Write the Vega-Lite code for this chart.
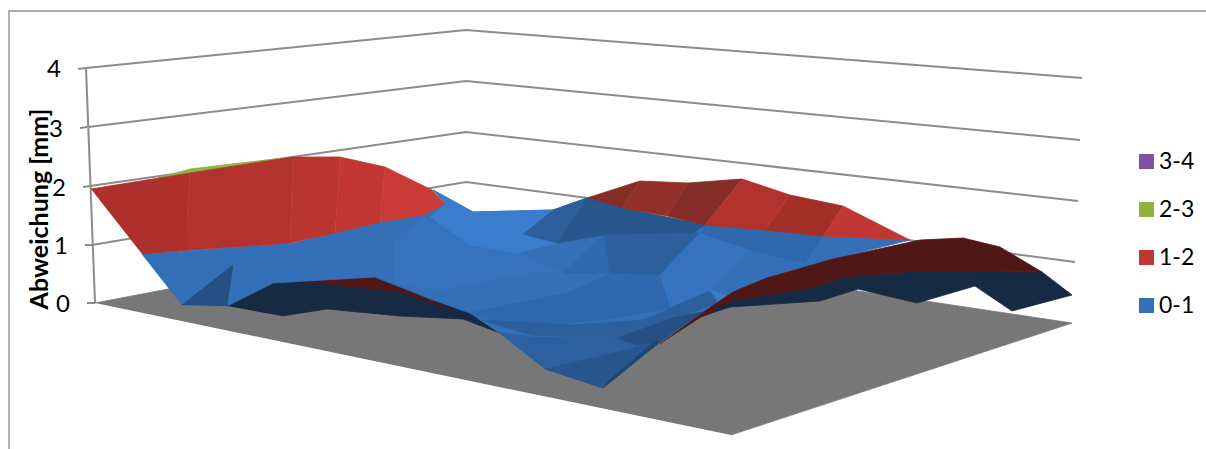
{"$schema":"https://vega.github.io/schema/vega-lite/v6.json","width":1206,"height":449,"padding":0,"autosize":{"type":"none"},"background":"white","config":{"view":{"stroke":null}},
"datasets":{
"lines":[
{"l":"frame","n":0,"x":9,"y":449},{"l":"frame","n":1,"x":9,"y":11},{"l":"frame","n":2,"x":1206,"y":11},
{"l":"g4","n":0,"x":78,"y":69},{"l":"g4","n":1,"x":86,"y":68},{"l":"g4","n":2,"x":466,"y":30},{"l":"g4","n":3,"x":1082,"y":78},
{"l":"g3","n":0,"x":80,"y":128},{"l":"g3","n":1,"x":88,"y":127},{"l":"g3","n":2,"x":466,"y":81},{"l":"g3","n":3,"x":1080,"y":140},
{"l":"g2","n":0,"x":83,"y":187},{"l":"g2","n":1,"x":90,"y":186},{"l":"g2","n":2,"x":466,"y":132},{"l":"g2","n":3,"x":1078,"y":201},
{"l":"g1","n":0,"x":85,"y":245},{"l":"g1","n":1,"x":92,"y":245},{"l":"g1","n":2,"x":466,"y":182},{"l":"g1","n":3,"x":1075,"y":262},
{"l":"g0","n":0,"x":87,"y":303},{"l":"g0","n":1,"x":95,"y":303},
{"l":"axis","n":0,"x":86,"y":68},{"l":"axis","n":1,"x":95,"y":303}
],
"polys":[
{"poly":"floor","band":"floor","n":0,"x":95,"y":303},{"poly":"floor","band":"floor","n":1,"x":466,"y":232},{"poly":"floor","band":"floor","n":2,"x":1072,"y":323},{"poly":"floor","band":"floor","n":3,"x":731,"y":435},
{"poly":"nl","band":"navy","n":0,"x":227,"y":306},{"poly":"nl","band":"navy","n":1,"x":273,"y":283},{"poly":"nl","band":"navy","n":2,"x":375,"y":277},{"poly":"nl","band":"navy","n":3,"x":433,"y":295},{"poly":"nl","band":"navy","n":4,"x":470,"y":308},{"poly":"nl","band":"navy","n":5,"x":500,"y":333},{"poly":"nl","band":"navy","n":6,"x":463,"y":319},{"poly":"nl","band":"navy","n":7,"x":400,"y":316},{"poly":"nl","band":"navy","n":8,"x":327,"y":309},{"poly":"nl","band":"navy","n":9,"x":282,"y":316},
{"poly":"ml","band":"maroon","n":0,"x":300,"y":282},{"poly":"ml","band":"maroon","n":1,"x":375,"y":277},{"poly":"ml","band":"maroon","n":2,"x":453,"y":310},{"poly":"ml","band":"maroon","n":3,"x":400,"y":292},
{"poly":"grn","band":"2-3","n":0,"x":158,"y":178},{"poly":"grn","band":"2-3","n":1,"x":190,"y":169},{"poly":"grn","band":"2-3","n":2,"x":240,"y":163},{"poly":"grn","band":"2-3","n":3,"x":293,"y":157},
{"poly":"b0","band":"0-1","n":0,"x":433,"y":190},{"poly":"b0","band":"0-1","n":1,"x":473,"y":212},{"poly":"b0","band":"0-1","n":2,"x":553,"y":210},{"poly":"b0","band":"0-1","n":3,"x":587,"y":198},{"poly":"b0","band":"0-1","n":4,"x":622,"y":208},{"poly":"b0","band":"0-1","n":5,"x":705,"y":225},{"poly":"b0","band":"0-1","n":6,"x":780,"y":230},{"poly":"b0","band":"0-1","n":7,"x":823,"y":236},{"poly":"b0","band":"0-1","n":8,"x":910,"y":240},{"poly":"b0","band":"0-1","n":9,"x":833,"y":259},{"poly":"b0","band":"0-1","n":10,"x":767,"y":278},{"poly":"b0","band":"0-1","n":11,"x":733,"y":292},{"poly":"b0","band":"0-1","n":12,"x":717,"y":303},{"poly":"b0","band":"0-1","n":13,"x":660,"y":342},{"poly":"b0","band":"0-1","n":14,"x":603,"y":388},{"poly":"b0","band":"0-1","n":15,"x":545,"y":369},{"poly":"b0","band":"0-1","n":16,"x":498,"y":332},{"poly":"b0","band":"0-1","n":17,"x":470,"y":313},{"poly":"b0","band":"0-1","n":18,"x":433,"y":300},{"poly":"b0","band":"0-1","n":19,"x":375,"y":277},{"poly":"b0","band":"0-1","n":20,"x":273,"y":283},{"poly":"b0","band":"0-1","n":21,"x":227,"y":306},{"poly":"b0","band":"0-1","n":22,"x":182,"y":305},{"poly":"b0","band":"0-1","n":23,"x":142,"y":254},{"poly":"b0","band":"0-1","n":24,"x":293,"y":243},{"poly":"b0","band":"0-1","n":25,"x":335,"y":233},{"poly":"b0","band":"0-1","n":26,"x":380,"y":222},{"poly":"b0","band":"0-1","n":27,"x":423,"y":215},{"poly":"b0","band":"0-1","n":28,"x":445,"y":204},
{"poly":"bm","band":"blue light","n":0,"x":425,"y":217},{"poly":"bm","band":"blue light","n":1,"x":470,"y":245},{"poly":"bm","band":"blue light","n":2,"x":517,"y":253},{"poly":"bm","band":"blue light","n":3,"x":562,"y":273},{"poly":"bm","band":"blue light","n":4,"x":527,"y":273},{"poly":"bm","band":"blue light","n":5,"x":440,"y":290},{"poly":"bm","band":"blue light","n":6,"x":395,"y":283},{"poly":"bm","band":"blue light","n":7,"x":395,"y":240},
{"poly":"bt","band":"blue bright","n":0,"x":433,"y":190},{"poly":"bt","band":"blue bright","n":1,"x":473,"y":212},{"poly":"bt","band":"blue bright","n":2,"x":553,"y":210},{"poly":"bt","band":"blue bright","n":3,"x":523,"y":234},{"poly":"bt","band":"blue bright","n":4,"x":557,"y":243},{"poly":"bt","band":"blue bright","n":5,"x":517,"y":253},{"poly":"bt","band":"blue bright","n":6,"x":470,"y":245},{"poly":"bt","band":"blue bright","n":7,"x":430,"y":217},{"poly":"bt","band":"blue bright","n":8,"x":445,"y":204},
{"poly":"bd1","band":"blue deep","n":0,"x":553,"y":210},{"poly":"bd1","band":"blue deep","n":1,"x":587,"y":198},{"poly":"bd1","band":"blue deep","n":2,"x":557,"y":243},{"poly":"bd1","band":"blue deep","n":3,"x":523,"y":234},
{"poly":"bd2","band":"blue deepest","n":0,"x":587,"y":198},{"poly":"bd2","band":"blue deepest","n":1,"x":622,"y":208},{"poly":"bd2","band":"blue deepest","n":2,"x":603,"y":235},{"poly":"bd2","band":"blue deepest","n":3,"x":557,"y":243},
{"poly":"bd3","band":"blue deepest","n":0,"x":622,"y":208},{"poly":"bd3","band":"blue deepest","n":1,"x":705,"y":225},{"poly":"bd3","band":"blue deepest","n":2,"x":693,"y":233},{"poly":"bd3","band":"blue deepest","n":3,"x":603,"y":235},
{"poly":"bd4","band":"blue deep","n":0,"x":603,"y":235},{"poly":"bd4","band":"blue deep","n":1,"x":700,"y":233},{"poly":"bd4","band":"blue deep","n":2,"x":660,"y":275},{"poly":"bd4","band":"blue deep","n":3,"x":610,"y":273},
{"poly":"bd5","band":"blue mid","n":0,"x":603,"y":235},{"poly":"bd5","band":"blue mid","n":1,"x":610,"y":273},{"poly":"bd5","band":"blue mid","n":2,"x":562,"y":273},
{"poly":"br1","band":"blue light","n":0,"x":700,"y":233},{"poly":"br1","band":"blue light","n":1,"x":660,"y":275},{"poly":"br1","band":"blue light","n":2,"x":710,"y":290},
{"poly":"br2","band":"blue light","n":0,"x":700,"y":233},{"poly":"br2","band":"blue light","n":1,"x":710,"y":290},{"poly":"br2","band":"blue light","n":2,"x":752,"y":250},
{"poly":"br3","band":"blue mid","n":0,"x":705,"y":225},{"poly":"br3","band":"blue mid","n":1,"x":765,"y":230},{"poly":"br3","band":"blue mid","n":2,"x":752,"y":250},{"poly":"br3","band":"blue mid","n":3,"x":700,"y":233},
{"poly":"br4","band":"blue mid","n":0,"x":765,"y":230},{"poly":"br4","band":"blue mid","n":1,"x":823,"y":236},{"poly":"br4","band":"blue mid","n":2,"x":805,"y":263},{"poly":"br4","band":"blue mid","n":3,"x":752,"y":250},
{"poly":"bl2","band":"blue fold","n":0,"x":182,"y":305},{"poly":"bl2","band":"blue fold","n":1,"x":233,"y":265},{"poly":"bl2","band":"blue fold","n":2,"x":227,"y":306},
{"poly":"bo1","band":"blue mid","n":0,"x":470,"y":313},{"poly":"bo1","band":"blue mid","n":1,"x":567,"y":293},{"poly":"bo1","band":"blue mid","n":2,"x":610,"y":274},{"poly":"bo1","band":"blue mid","n":3,"x":660,"y":275},{"poly":"bo1","band":"blue mid","n":4,"x":670,"y":308},{"poly":"bo1","band":"blue mid","n":5,"x":600,"y":320},{"poly":"bo1","band":"blue mid","n":6,"x":540,"y":325},{"poly":"bo1","band":"blue mid","n":7,"x":500,"y":325},
{"poly":"bo2","band":"blue light","n":0,"x":660,"y":275},{"poly":"bo2","band":"blue light","n":1,"x":710,"y":290},{"poly":"bo2","band":"blue light","n":2,"x":670,"y":308},
{"poly":"bo3","band":"blue deep","n":0,"x":670,"y":308},{"poly":"bo3","band":"blue deep","n":1,"x":710,"y":291},{"poly":"bo3","band":"blue deep","n":2,"x":717,"y":303},{"poly":"bo3","band":"blue deep","n":3,"x":673,"y":320},{"poly":"bo3","band":"blue deep","n":4,"x":620,"y":330},
{"poly":"bo3b","band":"blue bright","n":0,"x":710,"y":290},{"poly":"bo3b","band":"blue bright","n":1,"x":727,"y":296},{"poly":"bo3b","band":"blue bright","n":2,"x":718,"y":302},
{"poly":"bo4","band":"blue deep","n":0,"x":480,"y":320},{"poly":"bo4","band":"blue deep","n":1,"x":575,"y":325},{"poly":"bo4","band":"blue deep","n":2,"x":670,"y":318},{"poly":"bo4","band":"blue deep","n":3,"x":617,"y":338},{"poly":"bo4","band":"blue deep","n":4,"x":530,"y":335},
{"poly":"bo5","band":"blue low","n":0,"x":498,"y":332},{"poly":"bo5","band":"blue low","n":1,"x":530,"y":337},{"poly":"bo5","band":"blue low","n":2,"x":617,"y":338},{"poly":"bo5","band":"blue low","n":3,"x":653,"y":343},{"poly":"bo5","band":"blue low","n":4,"x":545,"y":369},
{"poly":"bo6","band":"blue deepest","n":0,"x":545,"y":369},{"poly":"bo6","band":"blue deepest","n":1,"x":603,"y":388},{"poly":"bo6","band":"blue deepest","n":2,"x":653,"y":343},
{"poly":"bo7","band":"blue fold","n":0,"x":617,"y":338},{"poly":"bo7","band":"blue fold","n":1,"x":673,"y":318},{"poly":"bo7","band":"blue fold","n":2,"x":702,"y":312},{"poly":"bo7","band":"blue fold","n":3,"x":660,"y":342},{"poly":"bo7","band":"blue fold","n":4,"x":635,"y":345},
{"poly":"bo8","band":"blue dark","n":0,"x":603,"y":388},{"poly":"bo8","band":"blue dark","n":1,"x":660,"y":342},{"poly":"bo8","band":"blue dark","n":2,"x":655,"y":341},{"poly":"bo8","band":"blue dark","n":3,"x":607,"y":382},
{"poly":"r1","band":"red 1","n":0,"x":91,"y":189},{"poly":"r1","band":"red 1","n":1,"x":190,"y":173},{"poly":"r1","band":"red 1","n":2,"x":187,"y":218},{"poly":"r1","band":"red 1","n":3,"x":190,"y":250},{"poly":"r1","band":"red 1","n":4,"x":142,"y":254},
{"poly":"r2","band":"red 2","n":0,"x":190,"y":173},{"poly":"r2","band":"red 2","n":1,"x":293,"y":157},{"poly":"r2","band":"red 2","n":2,"x":290,"y":243},{"poly":"r2","band":"red 2","n":3,"x":190,"y":250},{"poly":"r2","band":"red 2","n":4,"x":187,"y":218},
{"poly":"r3","band":"red 2b","n":0,"x":293,"y":157},{"poly":"r3","band":"red 2b","n":1,"x":340,"y":157},{"poly":"r3","band":"red 2b","n":2,"x":335,"y":233},{"poly":"r3","band":"red 2b","n":3,"x":290,"y":243},
{"poly":"r3b","band":"1-2","n":0,"x":340,"y":157},{"poly":"r3b","band":"1-2","n":1,"x":385,"y":167},{"poly":"r3b","band":"1-2","n":2,"x":380,"y":222},{"poly":"r3b","band":"1-2","n":3,"x":335,"y":233},
{"poly":"r4","band":"red 3","n":0,"x":385,"y":167},{"poly":"r4","band":"red 3","n":1,"x":432,"y":190},{"poly":"r4","band":"red 3","n":2,"x":445,"y":204},{"poly":"r4","band":"red 3","n":3,"x":423,"y":215},{"poly":"r4","band":"red 3","n":4,"x":380,"y":222},
{"poly":"rb1","band":"red dark 1","n":0,"x":587,"y":198},{"poly":"rb1","band":"red dark 1","n":1,"x":640,"y":181},{"poly":"rb1","band":"red dark 1","n":2,"x":622,"y":208},
{"poly":"rb2","band":"red dark 2","n":0,"x":640,"y":181},{"poly":"rb2","band":"red dark 2","n":1,"x":688,"y":183},{"poly":"rb2","band":"red dark 2","n":2,"x":667,"y":216},{"poly":"rb2","band":"red dark 2","n":3,"x":622,"y":208},
{"poly":"rb3","band":"red dark 1","n":0,"x":688,"y":183},{"poly":"rb3","band":"red dark 1","n":1,"x":742,"y":179},{"poly":"rb3","band":"red dark 1","n":2,"x":705,"y":225},{"poly":"rb3","band":"red dark 1","n":3,"x":667,"y":216},
{"poly":"rb4","band":"red 2","n":0,"x":742,"y":179},{"poly":"rb4","band":"red 2","n":1,"x":790,"y":195},{"poly":"rb4","band":"red 2","n":2,"x":765,"y":230},{"poly":"rb4","band":"red 2","n":3,"x":705,"y":225},
{"poly":"rb5","band":"red dark 3","n":0,"x":790,"y":195},{"poly":"rb5","band":"red dark 3","n":1,"x":843,"y":206},{"poly":"rb5","band":"red dark 3","n":2,"x":823,"y":236},{"poly":"rb5","band":"red dark 3","n":3,"x":765,"y":230},
{"poly":"rb6","band":"1-2","n":0,"x":843,"y":206},{"poly":"rb6","band":"1-2","n":1,"x":900,"y":235},{"poly":"rb6","band":"1-2","n":2,"x":910,"y":240},{"poly":"rb6","band":"1-2","n":3,"x":823,"y":236},
{"poly":"nr","band":"navy","n":0,"x":700,"y":317},{"poly":"nr","band":"navy","n":1,"x":730,"y":307},{"poly":"nr","band":"navy","n":2,"x":820,"y":301},{"poly":"nr","band":"navy","n":3,"x":858,"y":289},{"poly":"nr","band":"navy","n":4,"x":917,"y":303},{"poly":"nr","band":"navy","n":5,"x":975,"y":286},{"poly":"nr","band":"navy","n":6,"x":1012,"y":311},{"poly":"nr","band":"navy","n":7,"x":1072,"y":295},{"poly":"nr","band":"navy","n":8,"x":1042,"y":272},{"poly":"nr","band":"navy","n":9,"x":917,"y":271},{"poly":"nr","band":"navy","n":10,"x":843,"y":277},{"poly":"nr","band":"navy","n":11,"x":810,"y":288},{"poly":"nr","band":"navy","n":12,"x":733,"y":300},
{"poly":"mr","band":"maroon","n":0,"x":660,"y":344},{"poly":"mr","band":"maroon","n":1,"x":702,"y":313},{"poly":"mr","band":"maroon","n":2,"x":733,"y":292},{"poly":"mr","band":"maroon","n":3,"x":767,"y":278},{"poly":"mr","band":"maroon","n":4,"x":833,"y":259},{"poly":"mr","band":"maroon","n":5,"x":920,"y":240},{"poly":"mr","band":"maroon","n":6,"x":963,"y":238},{"poly":"mr","band":"maroon","n":7,"x":1000,"y":247},{"poly":"mr","band":"maroon","n":8,"x":1042,"y":272},{"poly":"mr","band":"maroon","n":9,"x":917,"y":271},{"poly":"mr","band":"maroon","n":10,"x":843,"y":277},{"poly":"mr","band":"maroon","n":11,"x":810,"y":288},{"poly":"mr","band":"maroon","n":12,"x":733,"y":300},{"poly":"mr","band":"maroon","n":13,"x":703,"y":316}
],
"labels":[{"t":"4","x":54,"y":70},{"t":"3","x":56,"y":130},{"t":"2","x":59,"y":189},{"t":"1","x":61,"y":247},{"t":"0","x":63,"y":305}],
"title":[{"t":"Abweichung [mm]","x":40,"y":209}]
},
"layer":[
{"data":{"name":"lines"},"mark":{"type":"line","color":"#a9a9a9","strokeWidth":1.8},"transform":[{"filter":"datum.l==='frame'"}],"encoding":{"x":{"field":"x","type":"quantitative","scale":{"domain":[0,1206],"nice":false,"zero":false},"axis":null},"y":{"field":"y","type":"quantitative","scale":{"domain":[449,0],"nice":false,"zero":false},"axis":null},"detail":{"field":"l"},"order":{"field":"n"}}},
{"data":{"name":"lines"},"mark":{"type":"line","color":"#8c8c8c","strokeWidth":2},"transform":[{"filter":"datum.l!=='frame'"}],"encoding":{"x":{"field":"x","type":"quantitative"},"y":{"field":"y","type":"quantitative"},"detail":{"field":"l"},"order":{"field":"n"}}},
{"data":{"name":"polys"},"mark":{"type":"line","filled":true,"strokeWidth":0.8,"strokeJoin":"round"},"encoding":{"x":{"field":"x","type":"quantitative"},"y":{"field":"y","type":"quantitative"},"detail":{"field":"poly"},"order":{"field":"n"},
"stroke":{"field":"band","type":"nominal","sort":null,"legend":null,"scale":{"domain":["3-4","2-3","1-2","0-1","floor","navy","maroon","blue bright","blue light","blue mid","blue low","blue deep","blue deepest","blue dark","blue fold","red 1","red 2","red 2b","red 3","red dark 1","red dark 2","red dark 3"],"range":["#7e52a3","#8fb240","#c23733","#3470b8","#777777","#162a44","#4f1715","#3a7dcc","#3573be","#2f68ac","#2c60a0","#2d5f9c","#28568f","#1f4670","#264f83","#ad302c","#b3322e","#ba3430","#ca3a37","#852d28","#93302a","#a23029"]}},
"color":{"field":"band","type":"nominal","sort":null,"scale":{"domain":["3-4","2-3","1-2","0-1","floor","navy","maroon","blue bright","blue light","blue mid","blue low","blue deep","blue deepest","blue dark","blue fold","red 1","red 2","red 2b","red 3","red dark 1","red dark 2","red dark 3"],"range":["#7e52a3","#8fb240","#c23733","#3470b8","#777777","#162a44","#4f1715","#3a7dcc","#3573be","#2f68ac","#2c60a0","#2d5f9c","#28568f","#1f4670","#264f83","#ad302c","#b3322e","#ba3430","#ca3a37","#852d28","#93302a","#a23029"]},
"legend":{"values":["3-4","2-3","1-2","0-1"],"title":null,"orient":"none","legendX":1135,"legendY":150,"symbolType":"square","symbolSize":225,"symbolStrokeWidth":0,"labelFont":"Lato","labelFontSize":23,"labelColor":"#000","labelOffset":1,"rowPadding":24,"symbolOpacity":1}}}},
{"data":{"name":"labels"},"mark":{"type":"text","font":"Lato","fontSize":24,"color":"#000","align":"center","baseline":"middle"},"encoding":{"x":{"field":"x","type":"quantitative"},"y":{"field":"y","type":"quantitative"},"text":{"field":"t"}}},
{"data":{"name":"title"},"mark":{"type":"text","font":"Lato","fontSize":25,"fontWeight":"bold","color":"#000","align":"center","baseline":"middle","angle":270},"encoding":{"x":{"field":"x","type":"quantitative"},"y":{"field":"y","type":"quantitative"},"text":{"field":"t"}}}
]}
